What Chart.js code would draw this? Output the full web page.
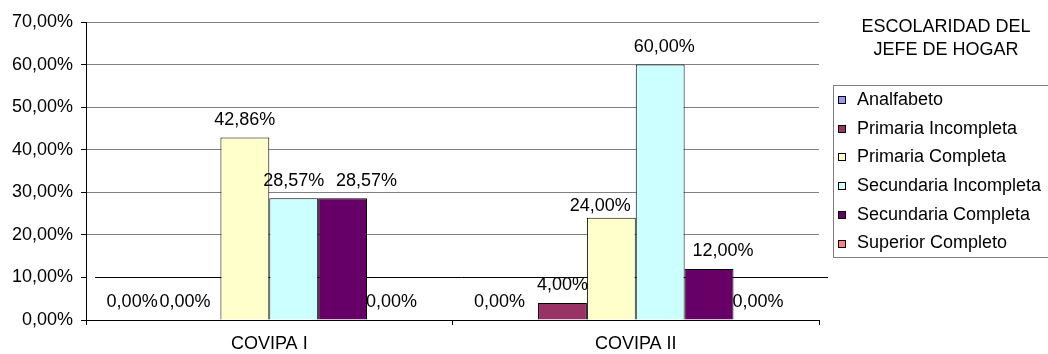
<!DOCTYPE html>
<html>
<head>
<meta charset="utf-8">
<script src="https://cdn.jsdelivr.net/npm/chart.js@4/dist/chart.umd.min.js"></script>
<style>
  html, body { margin: 0; padding: 0; background: #fff; }
  canvas { display: block; }
</style>
</head>
<body>
<canvas id="chart" width="1048" height="354"></canvas>
<script>
"use strict";

let GROUPS = ["COVIPA I", "COVIPA II"];

let LEVELS = [
    "Analfabeto",
    "Primaria Incompleta",
    "Primaria Completa",
    "Secundaria Incompleta",
    "Secundaria Completa",
    "Superior Completo"
];

// percent per level, one entry per group
let ANALFABETO = [0, 0];
let PRIMARIA_INCOMPLETA = [0, 4];
let PRIMARIA_COMPLETA = [42.86, 24];
let SECUNDARIA_INCOMPLETA = [28.57, 60];
let SECUNDARIA_COMPLETA = [28.57, 12];
let SUPERIOR_COMPLETO = [0, 0];

let LEGEND_TITLE = ["ESCOLARIDAD DEL", "JEFE DE HOGAR"];

let COLORS = ["#9999FF", "#993366", "#FFFFCC", "#CCFFFF", "#660066", "#FF8080"];
let SERIES = [
    ANALFABETO,
    PRIMARIA_INCOMPLETA,
    PRIMARIA_COMPLETA,
    SECUNDARIA_INCOMPLETA,
    SECUNDARIA_COMPLETA,
    SUPERIOR_COMPLETO
];

let FONT = "'Liberation Sans', Arial, sans-serif";
let SIZE = 18;

function pct(v) {
    return v.toFixed(2).replace(".", ",") + "%";
}

// hand-moved value labels: [dataset][group] = [dx, dy]
let NUDGE = {
    0: { 0: [-15, 0], 1: [-14, 0] },
    1: { 0: [-11, 0] },
    2: { 1: [-11, 6] },
    3: { 1: [4, 0] },
    4: { 0: [24, 0], 1: [14, 0] }
};

let valueLabels = {
    id: "valueLabels",
    afterDatasetsDraw(chart) {
        let ctx = chart.ctx;
        ctx.save();
        ctx.font = SIZE + "px " + FONT;
        ctx.fillStyle = "#000";
        ctx.textAlign = "center";
        ctx.textBaseline = "middle";
        chart.data.datasets.forEach(function(ds, di) {
            chart.getDatasetMeta(di).data.forEach(function(bar, i) {
                let n = (NUDGE[di] && NUDGE[di][i]) || [0, 0];
                ctx.fillText(pct(ds.data[i]), bar.x + n[0], bar.y - 17.5 + n[1]);
            });
        });
        ctx.restore();
    }
};

// the dark line at 10% sits a little right of the plot
let tenLine = {
    id: "tenLine",
    beforeDatasetsDraw(chart) {
        let ctx = chart.ctx;
        let area = chart.chartArea;
        let y = Math.round(chart.scales.y.getPixelForValue(10)) + 0.5;
        ctx.save();
        ctx.strokeStyle = "#000";
        ctx.lineWidth = 1;
        ctx.beginPath();
        ctx.moveTo(area.left + 9, y);
        ctx.lineTo(area.right + 9, y);
        ctx.stroke();
        ctx.restore();
    }
};

let sideLegend = {
    id: "sideLegend",
    afterDraw(chart) {
        let ctx = chart.ctx;
        let left = chart.chartArea.right + 14;
        ctx.save();
        ctx.font = SIZE + "px " + FONT;
        ctx.fillStyle = "#000";
        ctx.textAlign = "center";
        ctx.textBaseline = "middle";
        ctx.fillText(LEGEND_TITLE[0], left + 113, 27);
        ctx.fillText(LEGEND_TITLE[1], left + 113, 50);

        ctx.strokeStyle = "#808080";
        ctx.lineWidth = 1;
        ctx.strokeRect(left + 0.5, 85.5, 240, 172);

        ctx.textAlign = "left";
        chart.data.datasets.forEach(function(ds, i) {
            let y = 100 + i * 28.7;
            ctx.fillStyle = ds.backgroundColor;
            ctx.fillRect(left + 5, Math.round(y) - 4, 8, 8);
            ctx.strokeStyle = "#000";
            ctx.strokeRect(left + 5.5, Math.round(y) - 3.5, 7, 7);
            ctx.fillStyle = "#000";
            ctx.fillText(ds.label, left + 24, y);
        });
        ctx.restore();
    }
};

let chart = new Chart(document.getElementById("chart"), {
    type: "bar",
    data: {
        labels: GROUPS,
        datasets: LEVELS.map(function(name, i) {
            return {
                label: name,
                data: SERIES[i],
                backgroundColor: COLORS[i],
                borderColor: "#000",
                borderWidth: 1,
                borderSkipped: "bottom",
                categoryPercentage: 0.8,
                barPercentage: 1.0
            };
        })
    },
    options: {
        responsive: false,
        animation: false,
        devicePixelRatio: 1,
        layout: {
            padding: { left: 4, right: 229, top: 22, bottom: -9 }
        },
        plugins: {
            legend: { display: false },
            tooltip: { enabled: false }
        },
        scales: {
            x: {
                grid: {
                    offset: true,
                    drawOnChartArea: true,
                    color: function(c) {
                        return c.index === GROUPS.length ? "#808080" : "rgba(0,0,0,0)";
                    },
                    tickColor: "#000",
                    tickLength: 5
                },
                border: { color: "#000", width: 1 },
                ticks: {
                    color: "#000",
                    padding: 10,
                    font: { family: FONT, size: SIZE, lineHeight: 1 }
                }
            },
            y: {
                min: 0,
                max: 70,
                grid: {
                    color: function(c) {
                        return c.tick && c.tick.value === 10 ? "rgba(0,0,0,0)" : "#808080";
                    },
                    tickColor: "#000",
                    tickLength: 5
                },
                border: { color: "#000", width: 1 },
                ticks: {
                    stepSize: 10,
                    color: "#000",
                    padding: 8,
                    font: { family: FONT, size: SIZE },
                    callback: function(v) { return pct(v); }
                }
            }
        }
    },
    plugins: [tenLine, valueLabels, sideLegend]
});
</script>
</body>
</html>
